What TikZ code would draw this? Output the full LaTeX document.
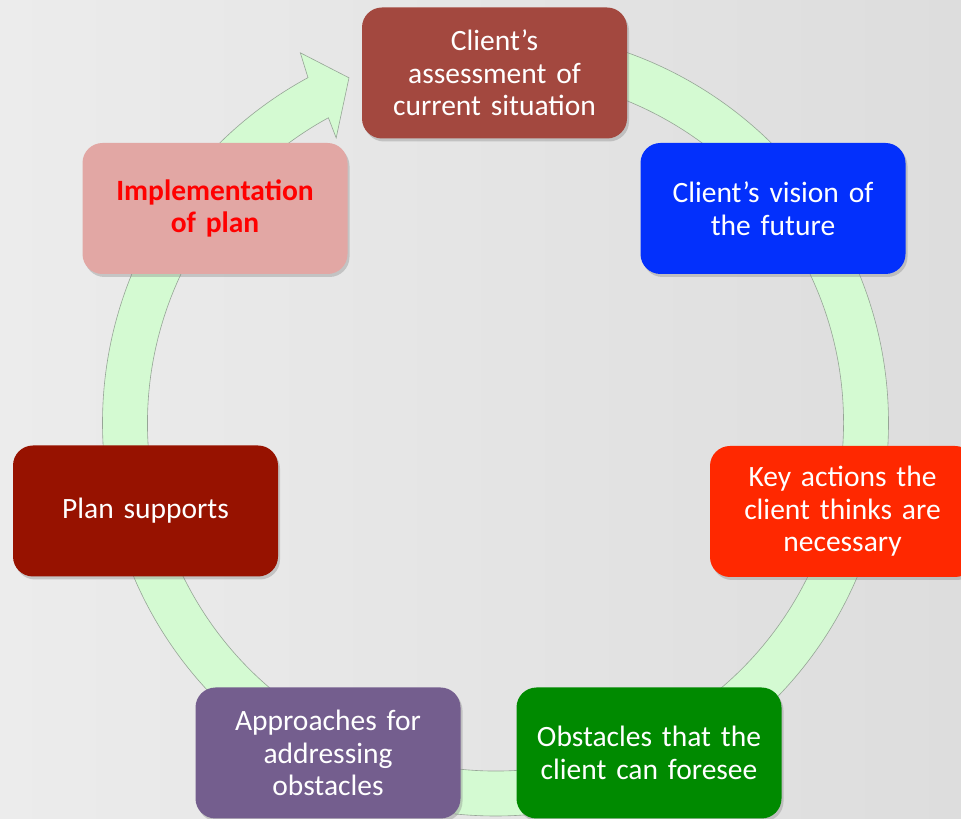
\documentclass[tikz,border=0pt]{standalone}
\usepackage{fontspec}
\setmainfont{Carlito}
\usetikzlibrary{shadows}
\definecolor{bgleft}{RGB}{236,236,236}
\definecolor{bgright}{RGB}{221,221,221}
\definecolor{ringfill}{RGB}{212,250,210}
\definecolor{ringline}{RGB}{150,165,150}
\definecolor{cassess}{RGB}{163,72,63}
\definecolor{cvision}{RGB}{3,48,252}
\definecolor{ckey}{RGB}{255,40,0}
\definecolor{cobst}{RGB}{0,138,0}
\definecolor{cappr}{RGB}{116,94,142}
\definecolor{csupp}{RGB}{151,18,0}
\definecolor{cimpl}{RGB}{226,167,164}
\definecolor{cimpltext}{RGB}{255,0,0}
\begin{document}
\begin{tikzpicture}[x=1pt,y=1pt,
  box/.style={rounded corners=20pt, minimum width=265pt, minimum height=131pt,
    text width=250pt, align=center, inner sep=0pt, text=white,
    font=\fontsize{29.5}{32.5}\selectfont,
    drop shadow={shadow xshift=2pt, shadow yshift=-3pt, opacity=0.35}},
  ring/.style={fill=ringfill, draw=ringline, line width=0.6pt}]
\useasboundingbox (0,0) rectangle (961,819);
\clip (0,0) rectangle (961,819);
\shade[left color=bgleft, right color=bgright] (0,0) rectangle (961,819);
% cycle arrow
\begin{scope}[shift={(495.5,396)}]
\draw[ring] (90:393) arc[start angle=90, end angle=-241.5, radius=393pt]
  -- (-242.2:418.5) -- (-247:375) -- (-240.8:326.6) -- (-241.3:348)
  arc[start angle=-241.3, end angle=90, radius=348pt] -- cycle;
\end{scope}
\node[box, fill=cassess] (assess) at (494.5,746) {Client’s\\assessment of\\current situation};
\node[box, fill=cvision] (vision) at (773,610.5) {Client’s vision of\\the future};
\node[box, fill=ckey] (keyact) at (842.5,307.5) {Key actions the\\client thinks are\\necessary};
\node[box, fill=cobst] (obstac) at (649,66) {Obstacles that the\\client can foresee};
\node[box, fill=cappr] (approach) at (328,66) {Approaches for\\addressing\\obstacles};
\node[box, fill=csupp] (supports) at (145.5,308) {Plan supports};
\node[box, fill=cimpl, text=cimpltext, font=\fontsize{29.5}{32.5}\selectfont\bfseries] (implem) at (215,610.5) {Implementation\\of plan};
\end{tikzpicture}
\end{document}
